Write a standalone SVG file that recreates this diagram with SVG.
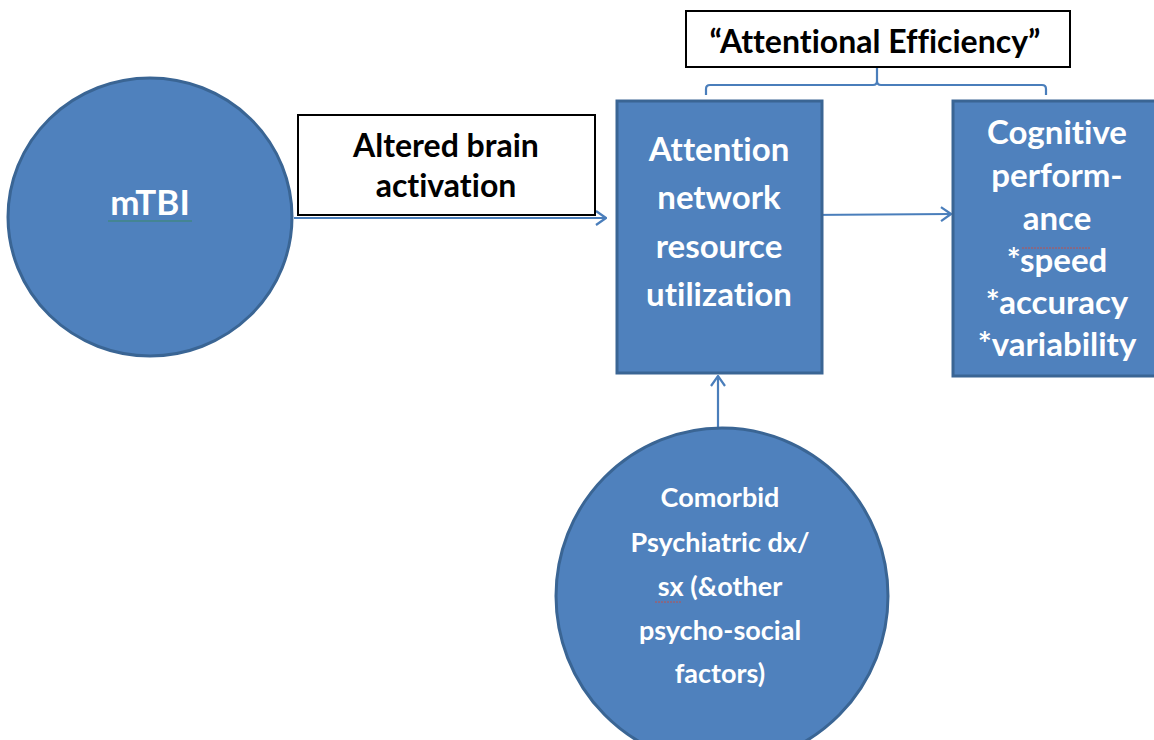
<svg xmlns="http://www.w3.org/2000/svg" width="1154" height="740" viewBox="0 0 1154 740">
<defs>
<style>
.node{fill:#4F81BD;stroke:#3A6594;stroke-width:3}
.lbl{fill:#fff;font-family:Lato,"Open Sans","Liberation Sans",sans-serif;font-weight:bold;text-anchor:middle;font-variant-ligatures:none}
.box{fill:#fff;stroke:#000;stroke-width:2}
.blk{fill:#000;font-family:Lato,"Open Sans","Liberation Sans",sans-serif;font-weight:bold;text-anchor:middle;font-variant-ligatures:none}
.conn{fill:none;stroke:#4A7EBB;stroke-width:2.2}
</style>
<marker id="arr" viewBox="0 0 12 16" refX="11" refY="8" markerWidth="12" markerHeight="16" markerUnits="userSpaceOnUse" orient="auto">
<path d="M1,1 L11,8 L1,15" fill="none" stroke="#4A7EBB" stroke-width="2.2"/>
</marker>
</defs>
<rect width="1154" height="740" fill="#fff"/>
<g id="connectors">
<line class="conn" x1="294" y1="218" x2="606" y2="218" marker-end="url(#arr)"/>
<line class="conn" x1="805" y1="215" x2="951" y2="214" marker-end="url(#arr)"/>
<line class="conn" x1="718" y1="428" x2="718" y2="376" marker-end="url(#arr)"/>
<path class="conn" d="M706,95 V89 Q706,85 710,85 H873 Q877,85 877,81 V67 M877,81 Q877,85 881,85 H1042 Q1046,85 1046,89 V95"/>
</g>
<g id="mtbi">
<ellipse class="node" cx="150" cy="217" rx="142" ry="139"/>
<text class="lbl" x="150" y="215" font-size="35">mTBI</text>
<line x1="108" y1="221" x2="192" y2="221" stroke="#3B8A6A" stroke-width="1.2"/>
</g>
<g id="altered">
<rect class="box" x="298" y="115" width="297" height="100"/>
<text class="blk" x="446" y="157" font-size="32">Altered brain</text>
<text class="blk" x="446" y="197" font-size="32">activation</text>
</g>
<g id="efficiency">
<rect class="box" x="686" y="11" width="384" height="56"/>
<text class="blk" x="875" y="53" font-size="32">“Attentional Efficiency”</text>
</g>
<g id="attention">
<rect class="node" x="617" y="101" width="205" height="272"/>
<text class="lbl" font-size="33"><tspan x="719" y="161">Attention</tspan><tspan x="719" y="209">network</tspan><tspan x="719" y="258">resource</tspan><tspan x="719" y="306">utilization</tspan></text>
</g>
<g id="cognitive">
<rect class="node" x="953" y="101" width="210" height="275"/>
<text class="lbl" font-size="33"><tspan x="1057" y="144">Cognitive</tspan><tspan x="1057" y="187">perform-</tspan><tspan x="1057" y="230">ance</tspan><tspan x="1057" y="272">*speed</tspan><tspan x="1057" y="314">*accuracy</tspan><tspan x="1057" y="356">*variability</tspan></text>
<line x1="1022" y1="248" x2="1090" y2="248" stroke="#C0504D" stroke-width="1" stroke-dasharray="2,1"/>
</g>
<g id="comorbid">
<ellipse class="node" cx="722" cy="596" rx="166" ry="168"/>
<text class="lbl" font-size="27"><tspan x="720" y="507">Comorbid</tspan><tspan x="720" y="552">Psychiatric dx/</tspan><tspan x="720" y="596">sx (&amp;other</tspan><tspan x="720" y="640">psycho-social</tspan><tspan x="720" y="683">factors)</tspan></text>
<line x1="655" y1="602" x2="681" y2="602" stroke="#C0504D" stroke-width="1" stroke-dasharray="2,1"/>
</g>
</svg>
